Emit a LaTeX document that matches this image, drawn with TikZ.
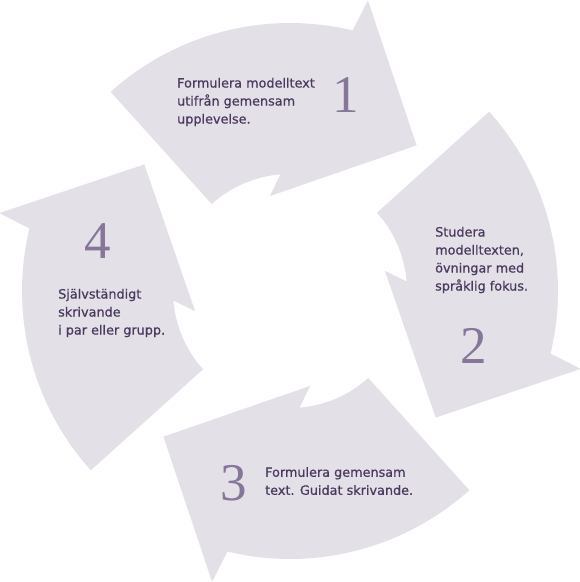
\documentclass[tikz,border=0pt]{standalone}
\usepackage{fontspec}
\setmainfont{DejaVu Sans}[FakeBold=0.7]
\newfontfamily\numfont{Liberation Serif}
\usepackage{tikz}
\usetikzlibrary{positioning}
\definecolor{lilac}{HTML}{E4E0E8}
\definecolor{plumtext}{HTML}{4A3A5E}
\definecolor{plumnum}{HTML}{85769A}

\begin{document}
\begin{tikzpicture}[x=1pt, y=1pt]
\tikzstyle{blade} = [fill=lilac]
\tikzstyle{phasetext} = [anchor=west, align=left, inner sep=0pt, text=plumtext, font=\fontsize{12.8}{18}\selectfont]
\tikzstyle{phasenum} = [inner sep=0pt, text=plumnum, font=\numfont\fontsize{53}{53}\selectfont]
\useasboundingbox (-290,-291) rectangle (290,291);
% four curved arrows, turning clockwise
\foreach \r in {0,90,180,270}
	\fill[blade] (132-\r:268) arc[start angle=132-\r, end angle=76.5-\r, radius=268pt]
		-- (75-\r:301) -- (49-\r:193) -- (102-\r:97) -- (94.7-\r:117)
		arc[start angle=94.7-\r, end angle=132-\r, radius=117pt] -- cycle;
\node[phasetext] (txt1) at (-113,189) {Formulera modelltext\\utifrån gemensam\\upplevelse.};
\node[phasetext] (txt2) at (145,31) {Studera\\modelltexten,\\övningar med\\språklig fokus.};
\node[phasetext] (txt3) at (-25,-190) {Formulera gemensam\\text. Guidat skrivande.};
\node[phasetext] (txt4) at (-232,-22) {Självständigt\\skrivande\\i par eller grupp.};
\node[phasenum] (num1) at (56,196) {1};
\node[phasenum] (num2) at (183.5,-54.5) {2};
\node[phasenum] (num3) at (-56,-192.5) {3};
\node[phasenum] (num4) at (-192.5,49.5) {4};
\end{tikzpicture}
\end{document}
